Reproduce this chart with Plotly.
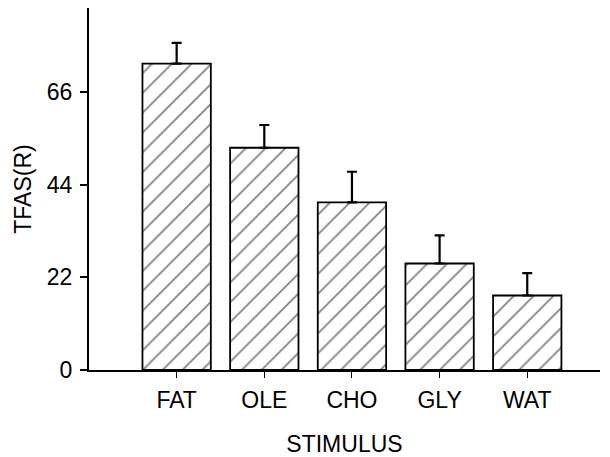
import plotly.graph_objects as go

categories = ["FAT", "OLE", "CHO", "GLY", "WAT"]
means = [72.8, 52.8, 39.8, 25.3, 17.7]
errors_up = [4.9, 5.4, 7.3, 6.7, 5.3]
y_ticks = [0, 22, 44, 66]

fig = go.Figure()
fig.add_trace(go.Bar(
    x=list(range(len(categories))),
    y=means,
    width=0.78,
    marker=dict(
        color="white",
        line=dict(color="black", width=1.8),
        pattern=dict(shape="/", fgcolor="black", bgcolor="white", size=14, solidity=0.12),
    ),
    error_y=dict(type="data", symmetric=False, array=errors_up, arrayminus=[0] * len(means),
                 color="black", thickness=2.2, width=5),
    showlegend=False,
))

font = "Liberation Sans, Arial, sans-serif"
# page body adds an 8px offset, so the figure is sized 602x449
fig.update_layout(
    width=602, height=449,
    margin=dict(l=81, r=10, t=0, b=87),
    paper_bgcolor="white", plot_bgcolor="white",
    font=dict(family=font, color="black"),
    xaxis=dict(
        range=[-1, 4.83],
        automargin=False,
        tickmode="array", tickvals=list(range(len(categories))), ticktext=categories,
        ticks="outside", ticklen=6, tickwidth=1.2, tickcolor="black",
        showline=True, linecolor="black", linewidth=2.2,
        showgrid=False, zeroline=False,
        tickfont=dict(size=23, family=font),
        ticklabelstandoff=2,
        title=dict(text="STIMULUS", font=dict(size=23, family=font), standoff=28),
    ),
    yaxis=dict(
        range=[0, 86],
        automargin=False,
        tickmode="array", tickvals=y_ticks, ticktext=[str(v) for v in y_ticks],
        ticks="outside", ticklen=7, tickwidth=1.5, tickcolor="black",
        showline=True, linecolor="black", linewidth=2.2,
        showgrid=False, zeroline=False,
        tickfont=dict(size=23, family=font),
        ticklabelstandoff=3,
        title=dict(text="TFAS(R)", font=dict(size=23, family=font), standoff=9),
    ),
)

fig.write_html("out.html")
